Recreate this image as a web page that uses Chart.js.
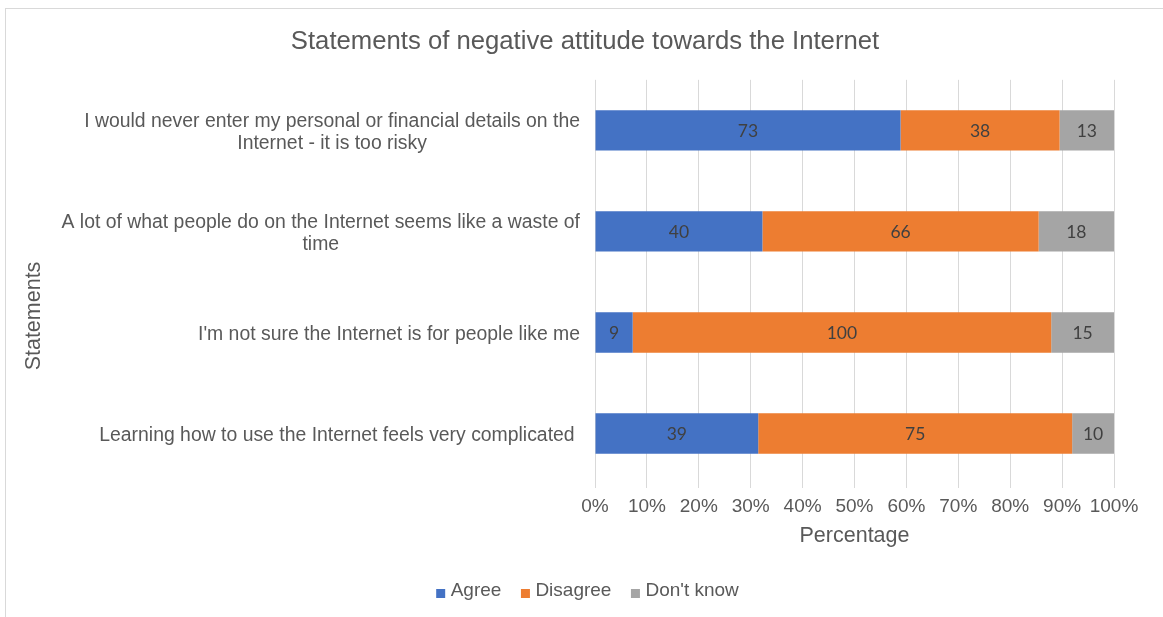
<!DOCTYPE html>
<html>
<head>
<meta charset="utf-8">
<title>Statements of negative attitude towards the Internet</title>
<script src="https://cdn.jsdelivr.net/npm/chart.js@4.4.1/dist/chart.umd.min.js"></script>
<style>
  html, body { margin: 0; padding: 0; background: #ffffff; }
  #frame { position: absolute; left: 5px; top: 8px; width: 1180px; height: 640px; border: 1px solid #d9d9d9; box-sizing: border-box; }
  #wrap { position: absolute; left: 0; top: 0; width: 1163px; height: 617px; }
</style>
</head>
<body>
<div id="frame"></div>
<div id="wrap"><canvas id="chart"></canvas></div>
<script>
// Survey statements (top to bottom)
const statements = [
  ['I would never enter my personal or financial details on the', 'Internet - it is too risky'],
  ['A lot of what people do on the Internet seems like a waste of', 'time'],
  ["I'm not sure the Internet is for people like me"],
  ['Learning how to use the Internet feels very complicated ']
];

// Response counts per statement
const agree    = [73, 40, 9, 39];
const disagree = [38, 66, 100, 75];
const dontKnow = [13, 18, 15, 10];

const seriesNames = ['Agree', 'Disagree', "Don't know"];
const seriesColors = ['#4472C4', '#ED7D31', '#A5A5A5'];
const percentTicks = [0, 10, 20, 30, 40, 50, 60, 70, 80, 90, 100];
const yAxisTitle = 'Statements';

const TEXT = '#595959';
const SANS = '"Liberation Sans", Arial, sans-serif';

// Each row is shown as shares of its total (100% stacked)
const totals = agree.map((a, i) => a + disagree[i] + dontKnow[i]);
const toPct = arr => arr.map((v, i) => v / totals[i] * 100);
const counts = [agree, disagree, dontKnow];

// Small square legend markers that sit close to their text
function legendSquare(color) {
  const c = document.createElement('canvas');
  c.width = 30;
  c.height = 16;
  const g = c.getContext('2d');
  g.fillStyle = color;
  g.fillRect(15, 6, 9, 9);
  return c;
}
const legendMarkers = seriesColors.map(legendSquare);

// Counts written in the middle of each segment
const segmentLabels = {
  id: 'segmentLabels',
  afterDatasetsDraw(chart) {
    const ctx = chart.ctx;
    ctx.save();
    ctx.font = '17.5px Lato, "Open Sans", sans-serif';
    ctx.fillStyle = '#404040';
    ctx.textAlign = 'center';
    ctx.textBaseline = 'middle';
    chart.data.datasets.forEach((ds, di) => {
      const meta = chart.getDatasetMeta(di);
      meta.data.forEach((bar, i) => {
        const cx = (bar.x + bar.base) / 2;
        ctx.fillText(String(counts[di][i]), cx, bar.y + 1);
      });
    });
    ctx.restore();
  }
};

// Category labels (right-aligned block, lines centred within it) and the vertical axis title
const categoryLabels = {
  id: 'categoryLabels',
  afterDraw(chart) {
    const ctx = chart.ctx;
    const yScale = chart.scales.y;
    const right = chart.chartArea.left - 15;
    const lineH = 22;
    ctx.save();
    ctx.font = '19.4px ' + SANS;
    ctx.fillStyle = TEXT;
    ctx.textAlign = 'center';
    ctx.textBaseline = 'middle';
    statements.forEach((lines, i) => {
      const cy = yScale.getPixelForValue(i) + 2;
      const w = Math.max(...lines.map(l => ctx.measureText(l).width));
      const cx = right - w / 2;
      const y0 = cy - (lines.length - 1) * lineH / 2;
      lines.forEach((l, k) => ctx.fillText(l, cx, y0 + k * lineH));
    });
    // vertical axis title
    ctx.font = '21.5px ' + SANS;
    ctx.translate(34, 316);
    ctx.rotate(-Math.PI / 2);
    ctx.fillText(yAxisTitle, 0, 0);
    ctx.restore();
  }
};

new Chart(document.getElementById('chart'), {
  type: 'bar',
  data: {
    labels: statements.map(s => s.join(' ')),
    datasets: [
      { label: seriesNames[0], data: toPct(agree),    backgroundColor: seriesColors[0] },
      { label: seriesNames[1], data: toPct(disagree), backgroundColor: seriesColors[1] },
      { label: seriesNames[2], data: toPct(dontKnow), backgroundColor: seriesColors[2] }
    ]
  },
  options: {
    indexAxis: 'y',
    responsive: true,
    maintainAspectRatio: false,
    animation: false,
    categoryPercentage: 0.8,
    barPercentage: 0.5,
    borderWidth: 0,
    layout: { padding: { left: 56, right: 49, top: 0, bottom: 6.5 } },
    plugins: {
      title: {
        display: true,
        text: 'Statements of negative attitude towards the Internet',
        color: TEXT,
        font: { family: SANS, size: 25.7, weight: 'normal' },
        padding: { top: 26, bottom: 23 }
      },
      legend: {
        position: 'bottom',
        labels: {
          color: TEXT,
          font: { family: SANS, size: 19 },
          boxWidth: 10,
          boxHeight: 10,
          usePointStyle: true,
          pointStyleWidth: 10,
          padding: 14.5,
          generateLabels(chart) {
            const items = Chart.defaults.plugins.legend.labels.generateLabels(chart);
            items.forEach((it, i) => { it.pointStyle = legendMarkers[i]; });
            return items;
          }
        }
      },
      tooltip: { enabled: false }
    },
    scales: {
      x: {
        stacked: true,
        min: 0,
        max: 100,
        afterBuildTicks(scale) { scale.ticks = percentTicks.map(v => ({ value: v })); },
        afterFit(scale) { scale.height = 83; },
        ticks: {
          color: TEXT,
          font: { family: SANS, size: 19 },
          padding: 7,
          maxRotation: 0,
          callback: v => v + '%'
        },
        grid: { color: '#d9d9d9', lineWidth: 1, tickLength: 4, drawTicks: true },
        border: { display: false },
        title: {
          display: true,
          text: 'Percentage',
          color: TEXT,
          font: { family: SANS, size: 21.5 },
          padding: { top: 4, bottom: 18 }
        }
      },
      y: {
        stacked: true,
        afterFit(scale) { scale.width = 539; },
        ticks: { display: false },
        grid: { display: false },
        border: { display: false }
      }
    }
  },
  plugins: [segmentLabels, categoryLabels]
});
</script>
</body>
</html>
